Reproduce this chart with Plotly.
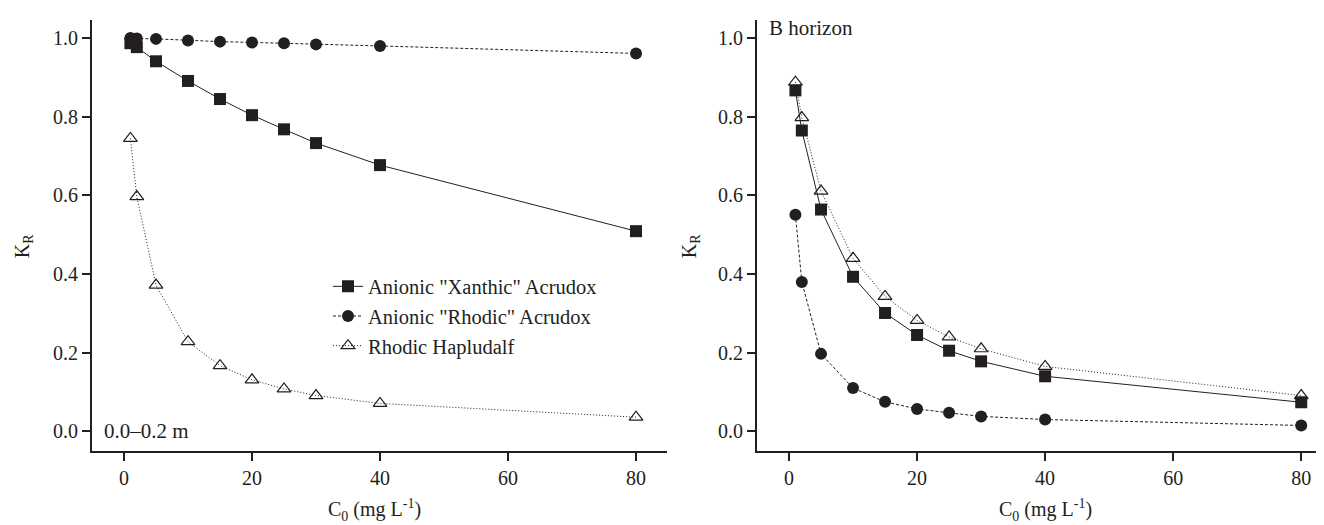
import plotly.graph_objects as go

# ---- data ----
c0 = [1, 2, 5, 10, 15, 20, 25, 30, 40, 80]

# 0.0-0.2 m (left panel)
top_xanthic = [0.987, 0.977, 0.941, 0.891, 0.845, 0.804, 0.768, 0.733, 0.677, 0.509]
top_rhodic = [1.000, 0.999, 0.998, 0.994, 0.991, 0.989, 0.987, 0.984, 0.980, 0.961]
top_hapludalf = [0.745, 0.597, 0.372, 0.228, 0.167, 0.131, 0.108, 0.091, 0.071, 0.036]

# B horizon (right panel)
b_xanthic = [0.867, 0.765, 0.564, 0.393, 0.301, 0.245, 0.205, 0.178, 0.140, 0.074]
b_rhodic = [0.551, 0.380, 0.197, 0.110, 0.075, 0.057, 0.047, 0.038, 0.030, 0.015]
b_hapludalf = [0.888, 0.798, 0.611, 0.440, 0.343, 0.282, 0.240, 0.210, 0.165, 0.091]

names = ['Anionic "Xanthic" Acrudox', 'Anionic "Rhodic" Acrudox', 'Rhodic Hapludalf']
x_ticks = [0, 20, 40, 60, 80]
y_ticks = [0.0, 0.2, 0.4, 0.6, 0.8, 1.0]

INK = "#231f20"
FONT = "Liberation Serif, Times New Roman, serif"

styles = [
    dict(line=dict(color=INK, width=1, dash="solid"),
         marker=dict(symbol="square", size=12, color=INK)),
    dict(line=dict(color=INK, width=1, dash="3px,2px"),
         marker=dict(symbol="circle", size=12, color=INK)),
    dict(line=dict(color=INK, width=1, dash="1px,2px"),
         marker=dict(symbol="triangle-up-open", size=12, color=INK, line=dict(width=1.2, color=INK))),
]

fig = go.Figure()
for i, (ys, st) in enumerate(zip([top_xanthic, top_rhodic, top_hapludalf], styles)):
    fig.add_trace(go.Scatter(x=c0, y=ys, mode="lines+markers", name=names[i],
                             xaxis="x", yaxis="y", showlegend=True, **st))
for i, (ys, st) in enumerate(zip([b_xanthic, b_rhodic, b_hapludalf], styles)):
    fig.add_trace(go.Scatter(x=c0, y=ys, mode="lines+markers", name=names[i],
                             xaxis="x2", yaxis="y2", showlegend=False, **st))

# page body has an 8px margin, so the figure is drawn 8px right/down
W, H = 1316, 517
axis_common = dict(showline=True, linewidth=2, linecolor=INK, ticks="outside",
                   ticklen=8, tickwidth=2, tickcolor=INK, showgrid=False, zeroline=False,
                   mirror=False, tickfont=dict(family=FONT, size=20, color=INK))

fig.update_layout(
    width=W, height=H,
    margin=dict(l=0, r=0, t=12, b=74),
    paper_bgcolor="white", plot_bgcolor="white",
    font=dict(family=FONT, size=20, color=INK),
    xaxis=dict(domain=[84 / W, 659 / W], range=[-5, 84.84], tickvals=x_ticks,
               anchor="y", **axis_common),
    yaxis=dict(domain=[0, 1], range=[-0.05, 1.046], tickvals=y_ticks, tickformat=".1f",
               anchor="x", **axis_common),
    xaxis2=dict(domain=[749 / W, 1315 / W], range=[-5, 83.4], tickvals=x_ticks,
                anchor="y2", **axis_common),
    yaxis2=dict(domain=[0, 1], range=[-0.05, 1.046], tickvals=y_ticks, tickformat=".1f",
                anchor="x2", **axis_common),
    legend=dict(x=320 / W, y=0.428, xref="paper", yref="paper", xanchor="left", yanchor="top",
                bgcolor="rgba(0,0,0,0)", font=dict(family=FONT, size=20.5, color=INK),
                tracegroupgap=0, itemwidth=30),
    showlegend=True,
)

ann = [
    dict(text="0.0–0.2 m", x=-3.5, y=0.0, xref="x", yref="y", xanchor="left", yanchor="middle",
         showarrow=False, font=dict(size=21)),
    dict(text="B horizon", x=-3.4, y=1.025, xref="x2", yref="y2", xanchor="left", yanchor="middle",
         showarrow=False, font=dict(size=21)),
    dict(text="K<sub>R</sub>", x=15 / W, y=0.475, xref="paper", yref="paper", textangle=-90,
         xanchor="center", yanchor="middle", showarrow=False),
    dict(text="K<sub>R</sub>", x=682 / W, y=0.475, xref="paper", yref="paper", textangle=-90,
         xanchor="center", yanchor="middle", showarrow=False),
    dict(text="C<sub>0</sub> (mg L<sup>-1</sup>)", x=366 / W, y=-0.137, xref="paper", yref="paper",
         xanchor="center", yanchor="middle", showarrow=False),
    dict(text="C<sub>0</sub> (mg L<sup>-1</sup>)", x=1037 / W, y=-0.137, xref="paper", yref="paper",
         xanchor="center", yanchor="middle", showarrow=False),
]
for a in ann:
    f = a.get("font", {})
    a["font"] = dict(family=FONT, size=f.get("size", 20), color=INK)
fig.update_layout(annotations=ann)

fig.write_html("out.html")
